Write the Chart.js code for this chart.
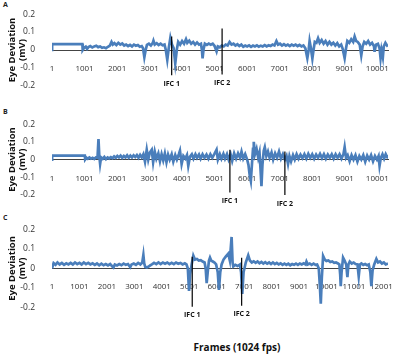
<!DOCTYPE html>
<html>
<head>
<meta charset="utf-8">
<script src="https://cdn.jsdelivr.net/npm/chart.js@4"></script>
<style>
  body { margin: 0; width: 400px; height: 357px; background: #fff; position: relative; overflow: hidden; font-family: "Open Sans", sans-serif; }
  .panel { position: absolute; left: 0; width: 400px; }
  .letter { position: absolute; left: 3px; font-size: 7px; font-weight: bold; color: #222; }
  #xtitle { position: absolute; left: 0; width: 474px; top: 340px; text-align: center; font-size: 10px; font-weight: bold; color: #111; }
</style>
</head>
<body>
<div class="letter" style="top:0px">A</div>
<div class="letter" style="top:107px">B</div>
<div class="letter" style="top:213px">C</div>
<div class="panel" style="top:0px;height:100px"><canvas id="chartA"></canvas></div>
<div class="panel" style="top:110px;height:100px"><canvas id="chartB"></canvas></div>
<div class="panel" style="top:215px;height:110px"><canvas id="chartC"></canvas></div>
<div id="xtitle">Frames (1024 fps)</div>

<script>
// ---- data (frame number, eye deviation in mV) ----
const framesA = [1, 5, 900, 935, 945, 990, 1040, 1080, 1120, 1180, 1240, 1300, 1360, 1420, 1480, 1540, 1600, 1660, 1720, 1780, 1830, 1870, 1920, 1980, 2040, 2100, 2160, 2220, 2280, 2340, 2400, 2460, 2520, 2580, 2640, 2700, 2760, 2800, 2840, 2880, 2920, 2980, 3040, 3100, 3120, 3160, 3220, 3280, 3340, 3400, 3460, 3500, 3545, 3590, 3640, 3690, 3740, 3790, 3840, 3880, 3940, 4000, 4060, 4120, 4160, 4220, 4280, 4340, 4400, 4460, 4520, 4580, 4610, 4630, 4660, 4700, 4760, 4820, 4880, 4940, 5000, 5060, 5100, 5160, 5220, 5280, 5340, 5400, 5460, 5520, 5580, 5640, 5700, 5760, 5820, 5880, 5940, 6000, 6060, 6120, 6180, 6240, 6300, 6360, 6420, 6480, 6540, 6600, 6660, 6720, 6780, 6840, 6900, 6950, 7010, 7070, 7130, 7190, 7250, 7310, 7370, 7430, 7490, 7550, 7610, 7670, 7730, 7790, 7850, 7890, 7920, 7960, 8005, 8040, 8080, 8130, 8180, 8230, 8290, 8350, 8410, 8470, 8530, 8590, 8650, 8710, 8770, 8830, 8890, 8940, 8997, 9040, 9080, 9140, 9200, 9260, 9304, 9350, 9400, 9460, 9508, 9550, 9600, 9660, 9720, 9780, 9840, 9900, 9917, 9960, 10020, 10070, 10101, 10130, 10172, 10200, 10250, 10300, 10330];
const valuesA = [0, 0.033, 0.033, 0.033, 0.0, 0.012, 0.018, 0.006, 0.016, 0.022, 0.014, 0.02, 0.024, 0.016, 0.02, 0.012, 0.015, 0.01, 0.018, 0.025, 0.045, 0.03, 0.038, 0.028, 0.04, 0.03, 0.036, 0.025, 0.03, 0.022, 0.028, 0.02, 0.03, 0.024, 0.028, 0.018, 0.022, 0.01, -0.04, 0.0, 0.028, 0.035, 0.025, 0.04, 0.052, 0.03, 0.038, 0.028, 0.035, 0.026, 0.03, 0.0, -0.055, 0.01, 0.068, 0.03, 0.01, -0.075, 0.005, 0.045, 0.03, 0.05, 0.035, 0.06, 0.04, 0.052, 0.035, 0.045, 0.03, 0.042, 0.03, 0.035, 0.0, -0.047, 0.005, 0.035, 0.028, 0.036, 0.03, 0.035, 0.022, -0.008, 0.02, 0.015, 0.025, 0.02, 0.03, 0.025, 0.045, 0.03, 0.035, 0.025, 0.032, 0.022, 0.03, 0.018, 0.025, 0.02, 0.026, 0.018, 0.025, 0.02, 0.026, 0.018, 0.024, 0.02, 0.027, 0.02, 0.026, 0.022, 0.03, 0.025, 0.05, 0.03, 0.035, 0.025, 0.032, 0.024, 0.03, 0.022, 0.03, 0.024, 0.03, 0.022, 0.028, 0.02, 0.025, 0.01, -0.045, 0.0, 0.05, 0.01, -0.047, 0.0, 0.045, 0.04, 0.065, 0.04, 0.055, 0.035, 0.05, 0.03, 0.045, 0.03, 0.04, 0.025, 0.038, 0.02, 0.03, 0.005, -0.045, 0.01, 0.05, 0.04, 0.06, 0.045, 0.075, 0.05, 0.045, 0.03, -0.03, 0.02, 0.045, 0.035, 0.05, 0.03, 0.04, 0.02, -0.01, 0.03, 0.035, 0.01, -0.045, 0.0, -0.04, 0.02, 0.04, 0.025, 0.03];

const framesB = [1, 5, 1010, 1020, 1060, 1100, 1150, 1200, 1250, 1300, 1350, 1400, 1430, 1455, 1480, 1510, 1560, 1610, 1660, 1710, 1760, 1810, 1860, 1910, 1960, 2010, 2060, 2110, 2160, 2210, 2260, 2310, 2360, 2410, 2460, 2510, 2560, 2610, 2660, 2710, 2760, 2810, 2860, 2913, 2960, 3010, 3067, 3110, 3160, 3210, 3270, 3320, 3370, 3420, 3470, 3520, 3570, 3620, 3680, 3730, 3790, 3840, 3900, 3935, 3986, 4040, 4100, 4150, 4190, 4240, 4300, 4350, 4410, 4460, 4520, 4570, 4630, 4690, 4750, 4810, 4870, 4930, 4990, 5060, 5100, 5160, 5210, 5270, 5320, 5380, 5430, 5490, 5540, 5600, 5660, 5720, 5780, 5827, 5880, 5940, 6000, 6040, 6080, 6113, 6150, 6180, 6204, 6240, 6290, 6340, 6380, 6410, 6440, 6470, 6510, 6542, 6590, 6640, 6690, 6750, 6800, 6860, 6920, 6980, 7040, 7100, 7160, 7210, 7257, 7300, 7350, 7410, 7463, 7520, 7580, 7640, 7700, 7760, 7820, 7880, 7940, 8000, 8060, 8120, 8180, 8240, 8300, 8360, 8420, 8480, 8540, 8600, 8660, 8720, 8780, 8840, 8900, 8960, 8997, 9040, 9090, 9150, 9210, 9270, 9330, 9390, 9450, 9510, 9570, 9630, 9690, 9750, 9810, 9870, 9930, 9990, 10040, 10070, 10110, 10160, 10210, 10260, 10310, 10326];
const valuesB = [0, 0.022, 0.022, 0.0, 0.01, 0.004, 0.012, 0.005, 0.01, 0.003, 0.012, 0.01, 0.115, 0.02, -0.025, 0.012, 0.004, 0.015, 0.002, 0.012, 0.006, 0.014, 0.008, 0.018, 0.01, 0.02, 0.012, 0.022, 0.01, 0.02, 0.012, 0.024, 0.01, 0.022, 0.012, 0.024, 0.014, 0.025, 0.01, 0.026, 0.012, 0.03, -0.012, 0.055, 0.0, 0.04, 0.055, -0.015, 0.045, 0.005, 0.035, -0.01, 0.03, -0.005, 0.035, -0.015, 0.028, 0.0, 0.03, -0.012, 0.025, 0.0, 0.03, 0.05, -0.025, 0.02, 0.005, 0.025, -0.035, 0.015, 0.03, 0.005, 0.03, 0.01, 0.028, 0.005, 0.03, 0.01, 0.028, 0.005, 0.03, 0.01, 0.03, 0.055, 0.0, 0.03, 0.005, 0.032, 0.005, 0.03, 0.0, 0.03, -0.008, 0.035, 0.005, 0.035, 0.01, 0.045, 0.005, 0.03, 0.0, -0.03, -0.09, -0.12, -0.02, 0.06, 0.1, 0.03, 0.06, 0.01, 0.04, -0.05, -0.15, -0.03, 0.05, 0.07, 0.02, 0.045, 0.01, 0.04, 0.0, 0.035, 0.01, 0.045, 0.005, 0.03, 0.0, 0.02, -0.025, 0.02, -0.01, 0.025, 0.0, 0.03, 0.005, 0.028, 0.008, 0.03, 0.005, 0.032, 0.01, 0.03, 0.005, 0.028, 0.01, 0.032, 0.008, 0.03, 0.005, 0.028, 0.01, 0.03, 0.005, 0.03, 0.01, 0.03, 0.005, 0.03, 0.07, 0.01, 0.025, -0.01, 0.025, 0.0, 0.025, -0.012, 0.02, 0.0, 0.025, -0.012, 0.022, 0.0, 0.025, -0.01, 0.02, 0.0, 0.02, -0.035, 0.01, 0.03, 0.005, 0.03, 0.012, 0.025];

const framesC = [1, 60, 130, 200, 280, 360, 440, 520, 600, 680, 760, 840, 920, 1000, 1080, 1160, 1240, 1320, 1400, 1480, 1560, 1640, 1720, 1800, 1880, 1960, 2040, 2120, 2200, 2240, 2290, 2370, 2450, 2530, 2610, 2690, 2770, 2850, 2900, 2980, 3060, 3140, 3220, 3290, 3330, 3360, 3400, 3460, 3530, 3575, 3640, 3720, 3800, 3880, 3960, 4040, 4120, 4200, 4280, 4360, 4440, 4520, 4600, 4680, 4760, 4840, 4900, 4950, 4993, 5030, 5090, 5150, 5210, 5280, 5350, 5420, 5490, 5560, 5600, 5636, 5680, 5720, 5757, 5800, 5860, 5920, 5980, 6040, 6084, 6130, 6180, 6250, 6330, 6423, 6480, 6544, 6580, 6605, 6680, 6760, 6847, 6890, 6932, 6980, 7060, 7150, 7211, 7280, 7350, 7420, 7490, 7560, 7630, 7700, 7770, 7840, 7910, 7980, 8050, 8120, 8190, 8260, 8330, 8400, 8470, 8540, 8610, 8680, 8750, 8820, 8890, 8960, 9030, 9100, 9170, 9240, 9272, 9320, 9390, 9460, 9530, 9600, 9660, 9720, 9760, 9793, 9830, 9878, 9938, 10000, 10070, 10140, 10210, 10280, 10350, 10420, 10470, 10500, 10520, 10550, 10605, 10660, 10720, 10763, 10800, 10848, 10920, 10990, 11060, 11130, 11175, 11220, 11272, 11340, 11410, 11480, 11540, 11600, 11636, 11680, 11740, 11818, 11880, 11950, 12020, 12090, 12160, 12242];
const valuesC = [0, 0.027, 0.018, 0.03, 0.02, 0.028, 0.018, 0.026, 0.02, 0.028, 0.02, 0.03, 0.022, 0.028, 0.02, 0.03, 0.022, 0.028, 0.02, 0.026, 0.018, 0.025, 0.016, 0.024, 0.016, 0.022, 0.015, 0.022, 0.01, 0.005, 0.02, 0.015, 0.022, 0.016, 0.024, 0.018, 0.022, 0.006, 0.02, 0.025, 0.018, 0.028, 0.02, 0.03, 0.068, 0.025, 0.008, 0.005, 0.01, 0.015, 0.02, 0.028, 0.022, 0.03, 0.022, 0.03, 0.024, 0.03, 0.022, 0.028, 0.022, 0.03, 0.024, 0.028, 0.02, 0.026, 0.02, 0.0, -0.115, -0.03, 0.02, 0.065, 0.045, 0.048, 0.04, 0.042, 0.035, 0.03, 0.0, -0.075, -0.01, 0.04, 0.055, 0.04, 0.035, 0.03, 0.02, -0.02, -0.11, -0.02, 0.02, 0.045, 0.06, 0.075, 0.04, 0.16, 0.03, 0.01, 0.018, 0.012, 0.02, -0.02, -0.13, -0.02, 0.03, 0.067, 0.04, 0.03, 0.036, 0.028, 0.035, 0.026, 0.033, 0.025, 0.032, 0.024, 0.03, 0.022, 0.03, 0.022, 0.028, 0.02, 0.026, 0.018, 0.024, 0.018, 0.024, 0.016, 0.022, 0.018, 0.024, 0.018, 0.025, 0.02, 0.026, 0.02, 0.035, 0.02, 0.025, 0.018, 0.024, 0.018, 0.02, 0.0, -0.09, -0.18, -0.05, 0.063, 0.045, 0.038, 0.04, 0.032, 0.035, 0.028, 0.03, 0.025, 0.02, -0.03, -0.09, -0.02, 0.055, 0.04, 0.02, -0.045, 0.02, 0.035, 0.025, 0.03, 0.022, 0.02, -0.04, 0.02, 0.025, 0.018, 0.022, 0.016, 0.02, -0.02, -0.09, -0.01, 0.02, 0.048, 0.03, 0.035, 0.025, 0.03, 0.02, 0.025];

// IFC markers: frame, top and bottom of the vertical line (mV)
const ifcFramesA = [3680, 5230];
const ifcTopA = [0.075, 0.12];
const ifcBottomA = [-0.14, -0.137];
const ifcFramesB = [5470, 7160];
const ifcTopB = [0.055, 0.045];
const ifcBottomB = [-0.186, -0.2];
const ifcFramesC = [5110, 6910];
const ifcTopC = [0.059, 0.054];
const ifcBottomC = [-0.195, -0.19];
const ifcNames = ['IFC 1', 'IFC 2'];

// tick labels
const xTicksAB = [1, 1001, 2001, 3001, 4001, 5001, 6001, 7001, 8001, 9001, 10001];
const xTicksC = [1, 1001, 2001, 3001, 4001, 5001, 6001, 7001, 8001, 9001, 10001, 11001, 12001];
const yTicks = [-0.2, -0.1, 0, 0.1, 0.2];
const lastFrameAB = 10330;
const lastFrameC = 12242;

Chart.defaults.font.family = '"Open Sans", sans-serif';
Chart.defaults.color = '#333';

// writes "IFC n" under each marker line
const ifcLabels = {
    id: 'ifcLabels',
    afterDatasetsDraw(chart) {
        const { ctx, scales } = chart;
        ctx.save();
        ctx.font = 'bold 7px "Open Sans", sans-serif';
        ctx.fillStyle = '#111';
        ctx.textAlign = 'center';
        ctx.textBaseline = 'middle';
        chart.data.datasets.forEach(ds => {
            if (!ds.ifcName) return;
            const p = ds.data[1];
            ctx.fillText(ds.ifcName, scales.x.getPixelForValue(p.x), scales.y.getPixelForValue(p.y) + 8.5);
        });
        ctx.restore();
    }
};

function buildPanel(id, frames, values, ifcFrames, ifcTop, ifcBottom, xMax, xTicks, pad) {
    const trace = frames.map((f, i) => ({ x: f, y: values[i] }));
    const markers = ifcFrames.map((f, i) => ({
        ifcName: ifcNames[i],
        data: [{ x: f, y: ifcTop[i] }, { x: f, y: ifcBottom[i] }],
        borderColor: '#000',
        borderWidth: 1.2,
        pointRadius: 0,
        order: 1
    }));

    return new Chart(document.getElementById(id), {
        type: 'line',
        data: {
            datasets: [{
                data: trace,
                borderColor: '#4a7ebb',
                borderWidth: 2.7,
                pointRadius: 0,
                tension: 0,
                order: 2
            }, ...markers]
        },
        options: {
            responsive: true,
            maintainAspectRatio: false,
            animation: false,
            layout: { padding: pad },
            plugins: { legend: { display: false }, tooltip: { enabled: false } },
            scales: {
                x: {
                    type: 'linear',
                    position: { y: 0 },
                    min: 1,
                    max: xMax,
                    grid: { display: false },
                    border: { display: true, color: '#444', width: 1 },
                    afterBuildTicks: axis => { axis.ticks = xTicks.map(v => ({ value: v })); },
                    ticks: { autoSkip: false, maxRotation: 0, padding: 6, font: { size: 8 }, callback: v => String(v) }
                },
                y: {
                    min: -0.2,
                    max: 0.2,
                    grid: { display: false },
                    border: { display: false },
                    afterFit: axis => { axis.width = 52; },
                    afterBuildTicks: axis => { axis.ticks = yTicks.map(v => ({ value: v })); },
                    ticks: { padding: 9, font: { size: 8.5 }, callback: v => String(v) },
                    title: {
                        display: true,
                        text: ['Eye Deviation', '(mV)'],
                        font: { size: 9.5, weight: 'bold', lineHeight: 1.05 },
                        color: '#111',
                        padding: { top: 7, bottom: 0 }
                    }
                }
            }
        },
        plugins: [ifcLabels]
    });
}

buildPanel('chartA', framesA, valuesA, ifcFramesA, ifcTopA, ifcBottomA, lastFrameAB, xTicksAB,
    { top: 6, bottom: 14, left: 0, right: 12 });
buildPanel('chartB', framesB, valuesB, ifcFramesB, ifcTopB, ifcBottomB, lastFrameAB, xTicksAB,
    { top: 9, bottom: 15, left: 0, right: 12 });
buildPanel('chartC', framesC, valuesC, ifcFramesC, ifcTopC, ifcBottomC, lastFrameC, xTicksC,
    { top: 8.7, bottom: 17.3, left: 0, right: 12 });
</script>
</body>
</html>
